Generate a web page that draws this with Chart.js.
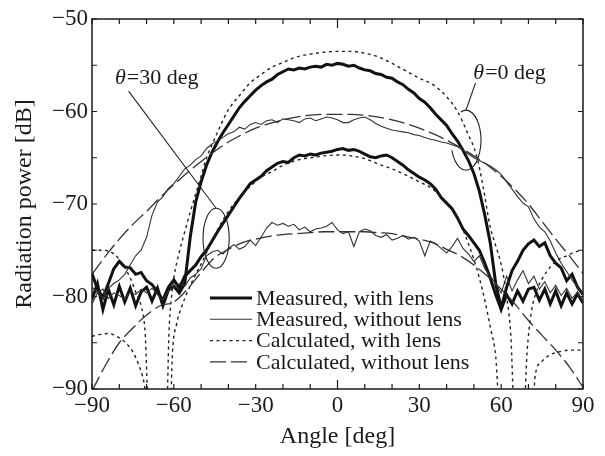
<!DOCTYPE html>
<html>
<head>
<meta charset="utf-8">
<script src="https://cdn.jsdelivr.net/npm/chart.js@4.4.0/dist/chart.umd.min.js"></script>
<style>
html, body { margin: 0; padding: 0; background: #fff; }
#wrap { width: 605px; height: 456px; }
</style>
</head>
<body>
<div id="wrap"><canvas id="myChart" width="605" height="456"></canvas></div>
<script>
// angle grid of the measured patterns (deg)
var measAngles = [
  -90,-88,-86,-84,-82,-80,-78,-76,-74,-72,
  -70,-68,-66,-64,-62,-60,-58,-56,-54,-52,
  -50,-48,-46,-44,-42,-40,-38,-36,-34,-32,
  -30,-28,-26,-24,-22,-20,-18,-16,-14,-12,
  -10,-8,-6,-4,-2,0,2,4,6,8,
  10,12,14,16,18,20,22,24,26,28,
  30,32,34,36,38,40,42,44,46,48,
  50,52,54,56,58,60,62,64,66,68,
  70,72,74,76,78,80,82,84,86,88,
  90];

// theta = 0 deg, measured with lens
var measLens0 = [
  -80.3,-78.6,-81.4,-79.2,-80.9,-78.9,-80.6,-79.1,-81.0,-79.5,
  -79.0,-80.5,-79.1,-81.0,-79.3,-78.9,-79.6,-78.6,-73.6,-69.8,
  -67.6,-65.8,-64.4,-63.3,-62.3,-61.4,-60.5,-59.6,-58.9,-58.3,
  -57.7,-57.2,-56.8,-56.5,-56.0,-55.7,-55.4,-55.5,-55.3,-55.4,
  -55.2,-55.1,-55.2,-54.9,-55.0,-54.8,-54.9,-55.1,-55.0,-55.3,
  -55.5,-55.6,-55.9,-56.0,-56.3,-56.4,-56.8,-57.1,-57.6,-58.0,
  -58.6,-59.0,-59.6,-60.3,-60.9,-61.5,-62.4,-63.2,-64.2,-65.3,
  -66.7,-68.6,-71.2,-74.2,-78.6,-81.2,-79.0,-77.2,-76.2,-75.0,
  -74.3,-73.9,-74.6,-74.2,-75.6,-76.4,-76.9,-78.3,-77.6,-79.0,
  -79.8];

// theta = 0 deg, measured without lens
var measNoLens0 = [
  -80.8,-79.6,-80.2,-79.1,-78.6,-78.2,-77.6,-76.6,-75.6,-75.0,
  -73.6,-71.2,-69.8,-69.2,-68.3,-67.8,-67.0,-66.2,-65.8,-65.2,
  -64.8,-64.0,-63.5,-63.2,-62.8,-62.4,-62.2,-61.7,-61.9,-61.4,
  -61.2,-61.4,-61.0,-60.9,-61.2,-60.8,-60.9,-61.0,-61.2,-60.8,
  -60.7,-61.0,-60.8,-60.6,-60.7,-60.9,-61.2,-61.2,-60.9,-60.7,
  -60.6,-60.9,-61.3,-61.6,-61.8,-62.0,-62.1,-62.2,-62.3,-62.5,
  -62.6,-62.8,-63.0,-63.1,-63.3,-63.4,-63.6,-63.8,-64.2,-64.6,
  -65.0,-65.3,-65.6,-65.9,-66.3,-66.8,-67.6,-68.4,-69.2,-69.9,
  -70.3,-71.6,-72.5,-73.0,-74.0,-75.3,-76.4,-77.3,-78.2,-79.0,
  -79.8];

// theta = 30 deg, measured with lens
var measLens30 = [
  -77.5,-79.2,-80.1,-78.6,-77.0,-76.2,-76.8,-76.9,-77.6,-77.4,
  -78.3,-78.7,-79.5,-80.4,-79.0,-78.2,-79.1,-77.8,-77.2,-76.6,
  -75.7,-75.0,-74.0,-73.0,-72.1,-71.2,-70.3,-69.4,-68.6,-67.8,
  -67.4,-67.0,-66.4,-66.0,-65.6,-65.4,-65.5,-65.0,-64.7,-64.8,
  -64.6,-64.7,-64.5,-64.4,-64.3,-64.1,-64.0,-64.2,-64.1,-64.3,
  -64.6,-64.9,-65.0,-64.8,-64.7,-65.0,-65.4,-65.8,-66.3,-66.7,
  -67.1,-67.4,-67.8,-68.4,-69.3,-69.9,-70.5,-71.5,-72.7,-73.4,
  -74.2,-75.0,-76.4,-78.0,-79.8,-81.4,-79.8,-80.8,-79.4,-80.5,
  -79.2,-79.0,-80.4,-79.2,-80.8,-79.4,-81.0,-79.6,-80.8,-79.7,
  -80.7];

// theta = 30 deg, measured without lens
var measNoLens30 = [
  -79.0,-79.6,-79.2,-80.2,-79.6,-79.9,-80.3,-79.5,-79.8,-79.2,
  -79.6,-79.1,-79.8,-80.4,-79.4,-79.0,-78.6,-78.9,-78.0,-77.6,
  -77.0,-75.6,-75.2,-75.0,-75.4,-74.8,-74.4,-74.9,-74.6,-73.9,
  -74.5,-73.6,-72.6,-72.0,-72.3,-72.1,-72.4,-72.2,-72.8,-72.5,
  -73.0,-72.7,-72.6,-72.4,-72.0,-72.8,-73.2,-73.0,-74.6,-73.0,
  -72.7,-72.9,-73.4,-73.6,-73.3,-73.9,-73.7,-73.4,-73.8,-73.6,
  -74.0,-75.6,-74.0,-74.3,-74.8,-75.3,-74.6,-73.7,-74.8,-75.4,
  -76.2,-75.6,-77.0,-77.8,-78.6,-79.6,-77.8,-79.4,-78.2,-77.2,
  -78.6,-77.8,-79.2,-78.4,-79.6,-78.8,-79.9,-79.1,-80.2,-79.5,
  -80.6];

// theta = 0 deg, calculated with lens
var calcLens0Angles = [-90,-86,-82,-79,-76,-74,-72,-70.5,-69.3,
  -62.6,-61.8,-61,-60,-58,-56,-54,-52,-50,-48,-46,-43,-40,-36,-32,-28,-24,-20,-15,-10,-5,
  0,5,10,15,20,25,30,35,40,44,47.5,51,53.3,56,58,60,61,62,63.5,64.8,
  68.4,69.5,71,73,75,78,81,84,87,90];
var calcLens0 = [-75.0,-75.0,-75.4,-76.4,-78.0,-79.5,-81.0,-84.0,-92,
  -92,-84.0,-80.5,-78.0,-75.2,-73.0,-70.9,-68.9,-67.0,-65.0,-63.6,-61.6,-59.8,-58.3,-56.9,-56.0,-55.2,-54.7,-54.1,-53.8,-53.6,
  -53.5,-53.5,-53.7,-54.1,-54.8,-55.6,-56.4,-57.1,-58.4,-60.0,-62.2,-64.8,-68.0,-72.5,-74.5,-76.5,-78.0,-80.0,-84.0,-92,
  -92,-86.0,-81.8,-79.4,-78.1,-76.8,-76.0,-75.6,-75.2,-75.0];

// theta = 30 deg, calculated with lens
var calcLens30Angles = [-90,-87,-84,-81,-78,-75,-73,-71,-69,
  -61.4,-60.5,-59,-57,-55,-52,-50,-47,-44,-40,-36,-32,-28,-24,-20,-14,-10,-5,
  0,5,10,16,20,26,30,34,38,42,45,48,50,52,54,56,58,59.6,
  71.3,72.5,75,78,81,85,90];
var calcLens30 = [-84.3,-84.1,-84.0,-84.3,-84.9,-86.0,-87.3,-89.2,-93,
  -93,-86.0,-83.0,-81.0,-79.5,-77.6,-76.5,-74.6,-72.8,-70.8,-69.3,-68.1,-67.1,-66.5,-65.8,-65.2,-65.0,-64.8,
  -64.7,-64.8,-65.1,-65.8,-66.2,-67.0,-67.6,-68.2,-69.2,-70.6,-72.1,-74.3,-76.0,-78.0,-80.4,-83.3,-86.5,-93,
  -93,-88.5,-87.0,-86.3,-86.0,-85.8,-85.8];

// calculated without lens (both planes), every 5 deg
var calcNoLensAngles = [-90,-85,-80,-75,-70,-65,-60,-55,-50,-45,-40,-35,-30,-25,-20,-15,-10,-5,
  0,5,10,15,20,25,30,35,40,45,50,55,60,65,70,75,80,85,90];
var calcNoLens0 = [-77.6,-75.6,-73.8,-72.2,-70.8,-69.3,-67.9,-66.6,-65.4,-64.3,-63.3,-62.5,-61.8,-61.3,-60.9,-60.6,-60.4,-60.3,
  -60.3,-60.3,-60.4,-60.6,-60.9,-61.3,-61.8,-62.4,-63.1,-63.9,-64.8,-65.8,-67.0,-68.4,-70.0,-71.9,-73.8,-75.6,-77.5];
var calcNoLens30 = [-90.2,-87.4,-85.0,-83.4,-82.0,-81.0,-80.6,-79.2,-77.4,-75.8,-74.9,-74.2,-73.8,-73.5,-73.3,-73.2,-73.1,-73.0,
  -73.0,-73.0,-73.0,-73.1,-73.2,-73.5,-73.8,-74.2,-74.9,-75.6,-76.6,-77.8,-79.2,-80.8,-82.6,-84.2,-85.8,-87.6,-89.8];

var xLabelled = [-90, -60, -30, 0, 30, 60, 90];
var yLabelled = [-90, -80, -70, -60, -50];
var legendNames = ['Measured, with lens', 'Measured, without lens', 'Calculated, with lens', 'Calculated, without lens'];

var serif = "'Liberation Serif', 'Times New Roman', serif";
var ink = '#1a1a1a';

var thick = { borderColor: '#111', borderWidth: 3, borderDash: [] };
var thin = { borderColor: '#333', borderWidth: 1.1, borderDash: [] };
var dotted = { borderColor: '#222', borderWidth: 1.4, borderDash: [3, 3.5] };
var dashed = { borderColor: '#333', borderWidth: 1.3, borderDash: [16, 5] };
var legendStyles = [thick, thin, dotted, dashed];

function pts(xs, ys) {
  return xs.map(function (x, i) { return { x: x, y: ys[i] }; });
}

function series(xs, ys, style, smooth) {
  return {
    data: pts(xs, ys),
    borderColor: style.borderColor,
    borderWidth: style.borderWidth,
    borderDash: style.borderDash,
    pointRadius: 0,
    fill: false,
    tension: 0,
    cubicInterpolationMode: smooth ? 'monotone' : 'default'
  };
}

function fmt(v) {
  return v < 0 ? '\u2212' + Math.abs(v) : String(v);
}

// annotations in data units: label, leader line, ring round the curves
var notes = [
  { text: '=30 deg', at: [-81.6, -57.0], from: [-76.6, -57.8], ring: [-44.5, -73.7, 4.8, 3.24], arc: [0, 360] },
  { text: '=0 deg', at: [49.8, -56.5], from: [50.6, -56.9], ring: [47.1, -63.1, 5.5, 3.24], arc: [-110, 160] }
];

var paper = {
  id: 'paper',
  beforeDraw: function (chart) {
    var ctx = chart.ctx;
    ctx.save();
    ctx.fillStyle = '#fff';
    ctx.fillRect(0, 0, chart.width, chart.height);
    ctx.restore();
  },
  afterDraw: function (chart) {
    var ctx = chart.ctx, a = chart.chartArea;
    var xs = chart.scales.x, ys = chart.scales.y;
    ctx.save();
    ctx.strokeStyle = ink;
    ctx.lineWidth = 1.5;
    ctx.strokeRect(a.left, a.top, a.right - a.left, a.bottom - a.top);

    // inward ticks on all four sides
    ctx.lineWidth = 1.2;
    ctx.beginPath();
    xs.ticks.forEach(function (t) {
      var px = xs.getPixelForValue(t.value);
      var len = t.value === 0 ? 9 : 5;
      ctx.moveTo(px, a.bottom); ctx.lineTo(px, a.bottom - len);
      ctx.moveTo(px, a.top); ctx.lineTo(px, a.top + len);
    });
    ys.ticks.forEach(function (t) {
      var py = ys.getPixelForValue(t.value);
      ctx.moveTo(a.left, py); ctx.lineTo(a.left + 5, py);
      ctx.moveTo(a.right, py); ctx.lineTo(a.right - 5, py);
    });
    ctx.stroke();

    // legend
    var lx = a.left + 118, ly = a.top + 279, step = 21.3;
    ctx.font = '22px ' + serif;
    ctx.fillStyle = ink;
    ctx.textBaseline = 'middle';
    legendNames.forEach(function (name, i) {
      var st = legendStyles[i];
      var y = ly + i * step;
      ctx.beginPath();
      ctx.strokeStyle = st.borderColor;
      ctx.lineWidth = st.borderWidth;
      ctx.setLineDash(st.borderDash);
      ctx.moveTo(lx, y); ctx.lineTo(lx + 42, y);
      ctx.stroke();
      ctx.setLineDash([]);
      ctx.fillText(name, lx + 46, y + 1);
    });

    // theta annotations
    ctx.strokeStyle = '#222';
    ctx.lineWidth = 1.1;
    notes.forEach(function (n) {
      var tx = xs.getPixelForValue(n.at[0]), ty = ys.getPixelForValue(n.at[1]);
      ctx.textBaseline = 'alphabetic';
      ctx.font = 'italic 22px ' + serif;
      ctx.fillText('\u03b8', tx, ty);
      var w = ctx.measureText('\u03b8').width;
      ctx.font = '22px ' + serif;
      ctx.fillText(n.text, tx + w + 1, ty);

      var cx = xs.getPixelForValue(n.ring[0]), cy = ys.getPixelForValue(n.ring[1]);
      var rx = Math.abs(xs.getPixelForValue(n.ring[0] + n.ring[2]) - cx);
      var ry = Math.abs(ys.getPixelForValue(n.ring[1] + n.ring[3]) - cy);
      ctx.beginPath();
      ctx.moveTo(xs.getPixelForValue(n.from[0]), ys.getPixelForValue(n.from[1]));
      ctx.lineTo(cx, cy - ry);
      ctx.stroke();
      ctx.beginPath();
      ctx.ellipse(cx, cy, rx, ry, 0, n.arc[0] * Math.PI / 180, n.arc[1] * Math.PI / 180);
      ctx.stroke();
    });
    ctx.restore();
  }
};

Chart.defaults.font.family = serif;
Chart.defaults.color = ink;

new Chart(document.getElementById('myChart'), {
  type: 'line',
  data: {
    datasets: [
      series(calcNoLensAngles, calcNoLens0, dashed, true),
      series(calcNoLensAngles, calcNoLens30, dashed, true),
      series(calcLens0Angles, calcLens0, dotted, true),
      series(calcLens30Angles, calcLens30, dotted, true),
      series(measAngles, measNoLens0, thin, false),
      series(measAngles, measNoLens30, thin, false),
      series(measAngles, measLens0, thick, false),
      series(measAngles, measLens30, thick, false)
    ]
  },
  options: {
    responsive: false,
    devicePixelRatio: 1,
    animation: false,
    layout: { padding: { top: 19, right: 22, left: 0, bottom: 0 } },
    plugins: { legend: { display: false }, tooltip: { enabled: false } },
    scales: {
      x: {
        type: 'linear', min: -90, max: 90,
        grid: { display: true, drawOnChartArea: false, drawTicks: false },
        border: { display: false },
        ticks: {
          stepSize: 10, autoSkip: false, maxRotation: 0, padding: 3,
          font: { size: 23 },
          callback: function (v) { return xLabelled.indexOf(v) >= 0 ? fmt(v) : ''; }
        },
        title: { display: true, text: 'Angle [deg]', font: { size: 24 }, padding: { top: 0, bottom: 5 } },
        afterFit: function (s) { s.height = 67; }
      },
      y: {
        type: 'linear', min: -90, max: -50,
        grid: { display: true, drawOnChartArea: false, drawTicks: false },
        border: { display: false },
        ticks: {
          stepSize: 5, autoSkip: false, padding: 4,
          font: { size: 23 },
          callback: function (v) { return yLabelled.indexOf(v) >= 0 ? fmt(v) : ''; }
        },
        title: { display: true, text: 'Radiation power [dB]', font: { size: 24 }, padding: { top: 10, bottom: 0 } },
        afterFit: function (s) { s.width = 92; }
      }
    }
  },
  plugins: [paper]
});
</script>
</body>
</html>
